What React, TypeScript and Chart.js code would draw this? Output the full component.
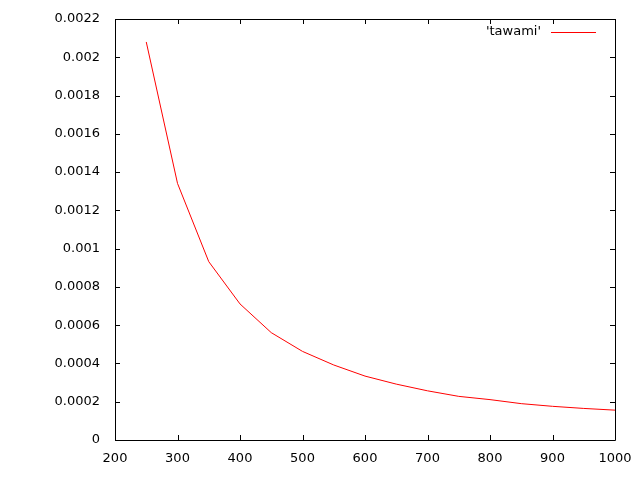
import React, { useEffect, useRef } from "react";
import { Chart, registerables } from "chart.js";

Chart.register(...registerables);

const seriesLabel = "'tawami'";
const xValues = [250, 300, 350, 400, 450, 500, 550, 600, 650, 700, 750, 800, 850, 900, 950, 1000];
const yValues = [
  0.00208, 0.001341, 0.000932, 0.000711, 0.000561, 0.000463, 0.000392, 0.000334,
  0.000292, 0.000257, 0.000228, 0.000211, 0.00019, 0.000176, 0.000165, 0.000156,
];
const xMin = 200;
const xMax = 1000;
const xStep = 100;
const yMin = 0;
const yMax = 0.0022;
const yStep = 0.0002;

const FONT = "'DejaVu Sans', sans-serif";

const frame = {
  id: "gnuFrame",
  afterDraw(chart: any) {
    const { ctx, chartArea } = chart;
    const { left, right, top, bottom } = chartArea;
    const xs = chart.scales.x;
    const ys = chart.scales.y;
    ctx.save();
    ctx.strokeStyle = "#000";
    ctx.lineWidth = 1;
    ctx.beginPath();
    ctx.rect(Math.round(left) + 0.5, Math.round(top) + 0.5, Math.round(right - left), Math.round(bottom - top));
    const tl = 5;
    xs.ticks.forEach((t: any) => {
      const px = Math.round(xs.getPixelForValue(t.value)) + 0.5;
      ctx.moveTo(px, bottom);
      ctx.lineTo(px, bottom - tl);
      ctx.moveTo(px, top);
      ctx.lineTo(px, top + tl);
    });
    ys.ticks.forEach((t: any) => {
      const py = Math.round(ys.getPixelForValue(t.value)) + 0.5;
      ctx.moveTo(left, py);
      ctx.lineTo(left + tl, py);
      ctx.moveTo(right, py);
      ctx.lineTo(right - tl, py);
    });
    ctx.stroke();
    // legend
    const ds = chart.data.datasets[0];
    const ly = top + 13;
    ctx.font = "13px " + FONT;
    ctx.fillStyle = "#000";
    ctx.textAlign = "right";
    ctx.textBaseline = "middle";
    ctx.fillText(ds.label, right - 74, ly);
    ctx.strokeStyle = ds.borderColor;
    ctx.beginPath();
    ctx.moveTo(right - 64, Math.round(ly) + 0.5);
    ctx.lineTo(right - 19, Math.round(ly) + 0.5);
    ctx.stroke();
    ctx.restore();
  },
};

export default function App() {
  const ref = useRef<HTMLCanvasElement>(null);
  useEffect(() => {
    if (!ref.current) return;
    const chart = new Chart(ref.current, {
      type: "line",
      data: {
        datasets: [
          {
            label: seriesLabel,
            data: xValues.map((x, i) => ({ x, y: yValues[i] })),
            borderColor: "#ff0000",
            borderWidth: 1,
            pointRadius: 0,
            tension: 0,
            fill: false,
          },
        ],
      },
      plugins: [frame],
      options: {
        responsive: false,
        animation: false,
        layout: { padding: { left: 0, top: 19, right: 25, bottom: 0 } },
        plugins: { legend: { display: false }, tooltip: { enabled: false } },
        scales: {
          x: {
            type: "linear",
            min: xMin,
            max: xMax,
            grid: { display: false, drawTicks: false },
            border: { display: false },
            ticks: {
              stepSize: xStep,
              padding: 11,
              maxRotation: 0,
              color: "#000",
              font: { family: FONT, size: 13 },
              callback: (v: any) => String(Math.round(Number(v))),
            },
            afterFit(scale: any) {
              scale.height = 40;
              scale.paddingLeft = 0;
              scale.paddingRight = 0;
            },
          },
          y: {
            type: "linear",
            min: yMin,
            max: yMax,
            grid: { display: false, drawTicks: false },
            border: { display: false },
            ticks: {
              stepSize: yStep,
              padding: 15,
              color: "#000",
              font: { family: FONT, size: 13 },
              callback: (v: any) => Number(Number(v).toFixed(4)).toString(),
            },
            afterFit(scale: any) {
              scale.width = 115;
              scale.paddingTop = 0;
              scale.paddingBottom = 0;
            },
          },
        },
      },
    });
    return () => chart.destroy();
  }, []);
  return (
    <div style={{ position: "fixed", left: 0, top: 0, width: 640, height: 480, background: "#fff" }}>
      <canvas ref={ref} width={640} height={480} style={{ width: 640, height: 480 }} />
    </div>
  );
}
